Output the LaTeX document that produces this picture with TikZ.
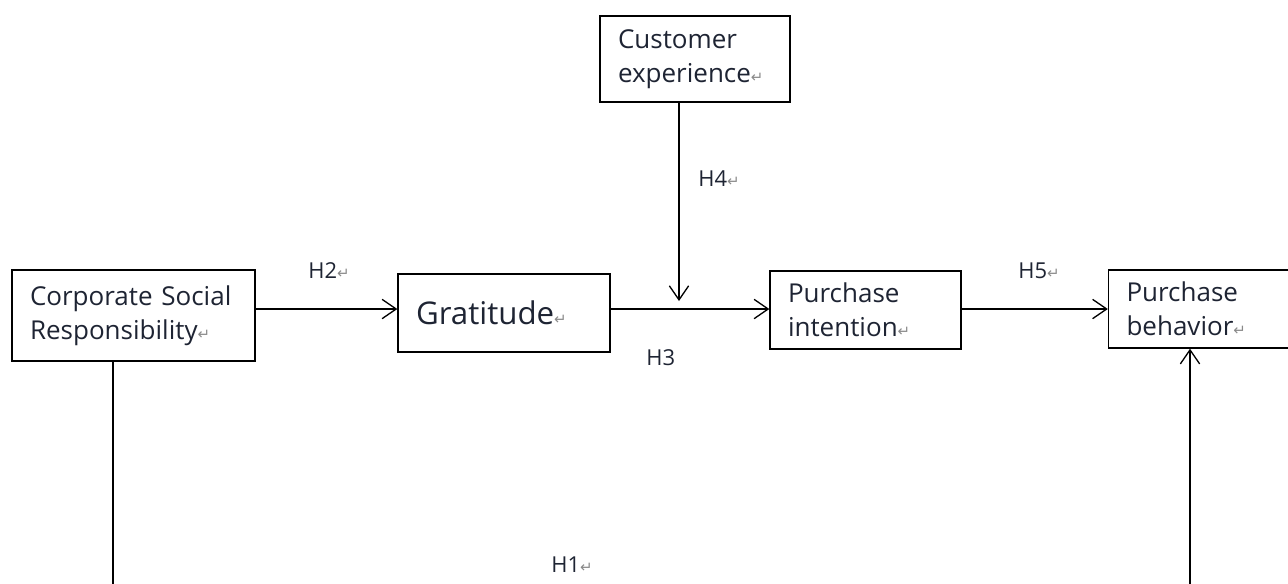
\documentclass[tikz,border=0pt]{standalone}
\usepackage{fontspec}
\setmainfont{Open Sans}
\newfontfamily\retfont{DejaVu Sans}
\usepackage{tikz}
\usetikzlibrary{arrows.meta}
\definecolor{ink}{HTML}{1E2433}
\definecolor{retmark}{HTML}{8A8A8A}
\newcommand{\ret}{{\retfont\fontsize{8.5}{8.5}\selectfont\color{retmark}↵}}

\begin{document}
\begin{tikzpicture}[x=0.02cm,y=-0.02cm,
  box/.style={draw, line width=0.8pt, inner xsep=0.36cm, inner ysep=0pt, align=left, text=ink, font=\fontsize{14.8}{19.3}\selectfont},
  hyp/.style={anchor=west, inner sep=0pt, text=ink, font=\fontsize{12.5}{14}\selectfont},
  link/.style={line width=0.75pt, -{Straight Barb[length=8pt,width=11pt]}}]
\clip (0,0) rectangle (1288,583);
\node[box, minimum width=4.86cm, minimum height=1.82cm, text width=4.14cm] (csr) at (133.5,315.5) {Corporate Social\\Responsibility\ret};
\node[box, minimum width=4.24cm, minimum height=1.56cm, text width=3.52cm, font=\fontsize{17.8}{20}\selectfont] (grat) at (504,313) {Gratitude\ret};
\node[box, minimum width=3.82cm, minimum height=1.56cm, text width=3.10cm] (pi) at (865.5,310) {Purchase\\intention\ret};
\node[box, minimum width=3.82cm, minimum height=1.56cm, text width=3.10cm] (pb) at (1204,309) {Purchase\\behavior\ret};
\node[box, minimum width=3.80cm, minimum height=1.72cm, text width=3.08cm] (ce) at (695,59) {Customer\\experience\ret};
% all main arrows sit on one row
\coordinate (row) at (0,309);
\coordinate (mod) at (679,301);
\coordinate (h1l) at (113,600);
\coordinate (h1r) at (1190,600);
\draw[link] (csr.east |- row) -- (grat.west |- row);
\draw[link] (grat.east |- row) -- (pi.west |- row);
\draw[link] (pi.east |- row) -- (pb.west |- row);
\draw[link] (ce.south -| mod) -- (mod);
\draw[link] (csr.south -| h1l) -- (h1l) -- (h1r) -- (pb.south -| h1r);
\node[hyp] (h2) at (308,271) {H2\ret};
\node[hyp] (h4) at (698,179) {H4\ret};
\node[hyp] (h3) at (646,358) {H3};
\node[hyp] (h5) at (1018,271) {H5\ret};
\node[hyp] (h1) at (551,565) {H1\ret};
\end{tikzpicture}
\end{document}
